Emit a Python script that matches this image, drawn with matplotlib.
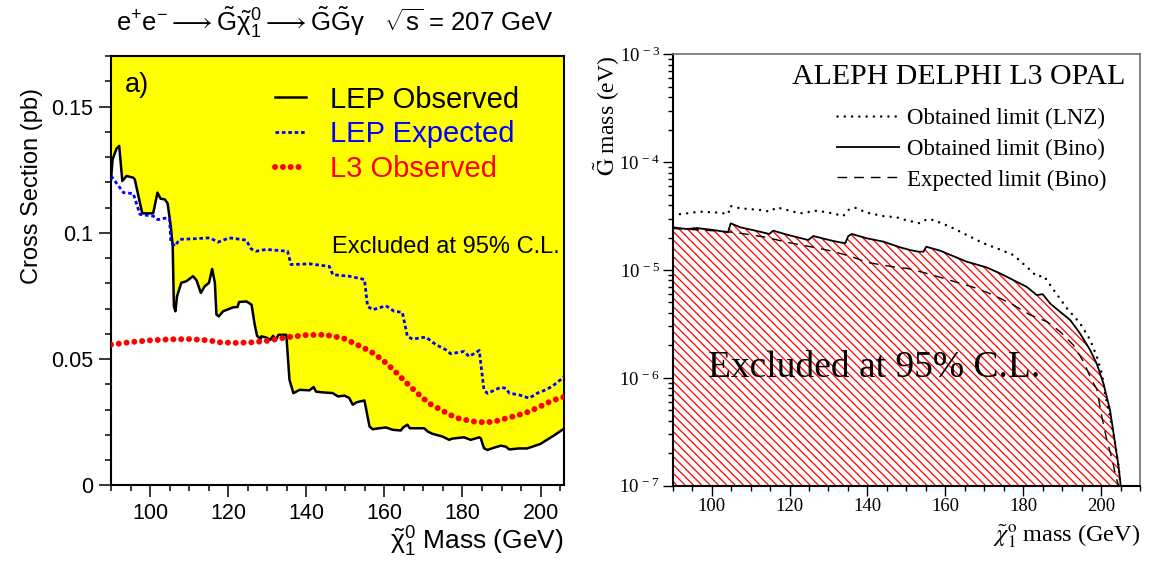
import numpy as np
import matplotlib
matplotlib.use('Agg')
import matplotlib.pyplot as plt
from matplotlib.ticker import MultipleLocator, FixedLocator, LogLocator, FuncFormatter, NullFormatter

plt.rcParams['font.family'] = ['Liberation Sans', 'DejaVu Sans']
plt.rcParams['mathtext.fontset'] = 'custom'
plt.rcParams['mathtext.rm'] = 'Liberation Sans'
plt.rcParams['mathtext.it'] = 'Liberation Sans'
plt.rcParams['mathtext.bf'] = 'Liberation Sans:bold'
plt.rcParams['mathtext.sf'] = 'Liberation Sans'
plt.rcParams['hatch.linewidth'] = 0.9

# ---------------- Left panel data (cross section, pb) ----------------
mass_obs = [90.0, 90.4, 91.4, 92.1, 92.9, 94.0, 95.7, 96.1, 97.4, 98.0,
            100.8, 101.9, 102.7, 103.8, 104.5, 105.3, 105.8, 106.1, 106.5, 106.9,
            108.0, 109.3, 111.0, 111.9, 113.0, 114.0, 115.1, 115.9, 116.6, 117.0,
            117.6, 118.7, 121.3, 122.4, 122.8, 124.7, 126.0, 126.8, 127.4, 128.3,
            128.5, 129.8, 130.8, 131.5, 132.2, 132.9, 134.9, 135.7, 136.7, 138.3,
            140.8, 141.9, 142.5, 144.2, 146.8, 148.1, 149.8, 151.0, 151.9, 152.9,
            154.9, 156.2, 157.0, 158.7, 160.4, 162.1, 164.2, 164.8, 165.9, 166.5,
            170.2, 171.1, 172.3, 174.9, 176.6, 177.4, 180.4, 182.1, 184.3, 184.7,
            185.5, 186.4, 188.1, 189.8, 191.1, 192.0, 194.5, 196.6, 197.9, 200.0,
            201.3, 203.0, 205.6, 206.0]
lep_obs = [0.121, 0.129, 0.1333, 0.1344, 0.1205, 0.1225, 0.1218, 0.1211, 0.1119, 0.1077,
           0.1077, 0.1159, 0.1135, 0.1132, 0.1116, 0.1026, 0.0947, 0.0709, 0.0689, 0.0748,
           0.0802, 0.0808, 0.0828, 0.0812, 0.0762, 0.0788, 0.0802, 0.0857, 0.0802, 0.0676,
           0.0669, 0.0689, 0.0705, 0.0706, 0.0726, 0.0728, 0.0715, 0.0636, 0.0592, 0.0579,
           0.0590, 0.0585, 0.0576, 0.0592, 0.0576, 0.0596, 0.0596, 0.0418, 0.0365, 0.0378,
           0.0376, 0.0389, 0.0371, 0.0368, 0.0365, 0.0352, 0.0355, 0.0346, 0.0319, 0.0329,
           0.0336, 0.0233, 0.0222, 0.0226, 0.0229, 0.0220, 0.0217, 0.0229, 0.0240, 0.0226,
           0.0226, 0.0213, 0.0204, 0.0193, 0.0180, 0.0185, 0.0190, 0.0180, 0.0190, 0.0186,
           0.0147, 0.0140, 0.0149, 0.0157, 0.0153, 0.0142, 0.0146, 0.0146, 0.0153, 0.0164,
           0.0177, 0.0193, 0.0220, 0.0225]

mass_exp = [90.0, 91.0, 93.2, 95.7, 97.4, 100.8, 102.0, 104.3, 105.0, 105.3,
            106.3, 107.6, 111.0, 115.3, 117.4, 120.3, 124.6, 125.9, 127.1, 129.7,
            135.2, 136.1, 140.8, 145.9, 146.8, 151.0, 154.9, 155.7, 157.0, 160.4,
            162.5, 164.6, 165.9, 167.2, 170.6, 173.2, 175.7, 177.0, 180.4, 181.7,
            184.3, 185.5, 186.4, 189.8, 191.1, 192.0, 194.5, 197.1, 199.2, 201.3,
            203.0, 205.6, 206.0]
lep_exp = [0.1225, 0.1205, 0.1159, 0.1155, 0.1073, 0.1066, 0.1052, 0.1059, 0.1055, 0.0967,
           0.0947, 0.0974, 0.0976, 0.0980, 0.0963, 0.0980, 0.0971, 0.0936, 0.0927, 0.0934,
           0.0927, 0.0874, 0.0877, 0.0867, 0.0834, 0.0828, 0.0815, 0.0709, 0.0695, 0.0711,
           0.0689, 0.0685, 0.0590, 0.0579, 0.0587, 0.0557, 0.0537, 0.0521, 0.0530, 0.0510,
           0.0534, 0.0378, 0.0364, 0.0388, 0.0384, 0.0365, 0.0358, 0.0345, 0.0365, 0.0378,
           0.0392, 0.0424, 0.0430]

mass_l3 = [90.0, 95.0, 100.0, 105.0, 110.0, 115.0, 118.0, 122.0, 126.0, 130.0,
           135.0, 140.0, 144.8, 149.4, 152.6, 156.5, 159.5, 162.5, 165.3, 168.0,
           171.4, 174.8, 178.2, 182.5, 185.9, 188.3, 191.9, 196.1, 199.5, 203.0, 206.0]
l3_obs = [0.0557, 0.0567, 0.0574, 0.0578, 0.0579, 0.0574, 0.0566, 0.0564, 0.0566, 0.0572,
          0.0586, 0.0595, 0.0596, 0.0583, 0.0560, 0.0530, 0.0497, 0.0455, 0.0411, 0.0371,
          0.0325, 0.0296, 0.0268, 0.0253, 0.0249, 0.0253, 0.0268, 0.0286, 0.0309, 0.0336, 0.0350]

left_xticks = [100, 120, 140, 160, 180, 200]
left_yticks = [0, 0.05, 0.1, 0.15]
left_yticklabels = ['0', '0.05', '0.1', '0.15']

# ---------------- Right panel data (gravitino mass, eV) ----------------
mass_bino = [90.0, 93.6, 96.2, 100.4, 104.2, 104.9, 107.3, 111.6, 114.8, 115.8,
             119.3, 124.8, 126.1, 131.2, 134.3, 135.1, 136.0, 139.8, 144.1, 148.4,
             151.0, 153.1, 154.4, 155.1, 158.7, 165.5, 170.6, 174.1, 177.5, 180.9,
             183.5, 185.0, 186.9, 189.5, 192.1, 194.6, 197.2, 198.9, 200.6, 202.3,
             203.6, 204.5, 204.9, 205.0]
gmass_bino = [2.489e-5, 2.399e-5, 2.449e-5, 2.350e-5, 2.239e-5, 2.710e-5, 2.489e-5, 2.301e-5, 2.158e-5, 2.317e-5,
              2.128e-5, 1.897e-5, 2.065e-5, 1.858e-5, 1.770e-5, 2.065e-5, 2.158e-5, 1.968e-5, 1.832e-5, 1.622e-5,
              1.531e-5, 1.479e-5, 1.479e-5, 1.644e-5, 1.510e-5, 1.194e-5, 1.057e-5, 9.29e-6, 8.05e-6, 6.98e-6,
              5.85e-6, 5.97e-6, 4.90e-6, 4.09e-6, 3.43e-6, 2.58e-6, 1.81e-6, 1.35e-6, 8.9e-7, 5.04e-7,
              2.47e-7, 1.50e-7, 1.12e-7, 1.0e-7]

mass_lnz = [90.0, 93.6, 97.0, 101.7, 104.3, 104.7, 107.3, 112.4, 115.0, 116.7,
            122.7, 127.0, 131.2, 133.8, 135.1, 136.8, 139.8, 144.1, 147.5, 149.7,
            153.5, 155.2, 156.9, 161.2, 165.5, 169.8, 173.2, 177.5, 181.8, 183.5,
            185.3, 187.8, 191.2, 194.6, 197.2, 198.9, 200.2, 201.0, 202.3, 203.6,
            204.5, 205.0]
gmass_lnz = [3.236e-5, 3.350e-5, 3.475e-5, 3.404e-5, 3.311e-5, 3.926e-5, 3.733e-5, 3.606e-5, 3.475e-5, 3.811e-5,
             3.350e-5, 3.548e-5, 3.350e-5, 3.162e-5, 3.606e-5, 3.784e-5, 3.404e-5, 3.162e-5, 3.083e-5, 2.911e-5,
             2.710e-5, 2.951e-5, 2.911e-5, 2.523e-5, 2.113e-5, 1.770e-5, 1.589e-5, 1.377e-5, 1.0e-5, 8.71e-6,
             8.83e-6, 6.55e-6, 4.43e-6, 3.21e-6, 2.25e-6, 1.58e-6, 1.10e-6, 7.18e-7, 4.37e-7, 2.47e-7,
             1.51e-7, 1.0e-7]

mass_bexp = [90.0, 100.0, 104.0, 107.3, 114.1, 119.3, 126.1, 131.2, 136.4, 139.8,
             144.9, 148.4, 150.1, 155.2, 159.5, 163.8, 168.1, 172.4, 177.5, 181.8,
             186.1, 189.5, 192.9, 195.5, 197.6, 198.9, 200.2, 201.5, 202.8, 203.9, 204.5]
gmass_bexp = [2.427e-5, 2.317e-5, 2.265e-5, 2.193e-5, 2.009e-5, 1.807e-5, 1.626e-5, 1.489e-5, 1.312e-5, 1.178e-5,
              1.096e-5, 1.045e-5, 1.038e-5, 9.31e-6, 8.38e-6, 7.53e-6, 6.76e-6, 5.86e-6, 4.74e-6, 3.83e-6,
              3.32e-6, 2.68e-6, 2.01e-6, 1.41e-6, 9.5e-7, 7.9e-7, 4.37e-7, 2.63e-7, 1.78e-7, 1.17e-7, 1.0e-7]

right_xticks = [100, 120, 140, 160, 180, 200]
right_yticks = [1e-7, 1e-6, 1e-5, 1e-4, 1e-3]

SERIF = 'Liberation Serif'

fig = plt.figure(figsize=(11.52, 5.63), dpi=100)
W, H = 1152.0, 563.0
axL = fig.add_axes([111 / W, 1 - 485.3 / H, 453 / W, 429.3 / H])
axR = fig.add_axes([672.7 / W, 1 - 485.7 / H, 467.3 / W, 431.4 / H])

# ================= LEFT =================
axL.fill_between(mass_obs, lep_obs, 0.17, color='#ffff00', lw=0, zorder=1)
axL.plot(mass_obs, lep_obs, color='black', lw=1.8, zorder=3, label='LEP Observed')
axL.plot(mass_exp, lep_exp, color='#0000ff', lw=2.0, ls=(0, (1.3, 1.0)), zorder=4,
         label='LEP Expected')
axL.plot(mass_l3, l3_obs, color='#ff0000', lw=4.3, ls=(0, (0.01, 1.3)),
         dash_capstyle='round', zorder=5, label='L3 Observed')

axL.set_xlim(90, 206)
axL.set_ylim(0, 0.17)
axL.xaxis.set_major_locator(FixedLocator(left_xticks))
axL.xaxis.set_minor_locator(MultipleLocator(5))
axL.set_yticks(left_yticks, labels=left_yticklabels)
axL.yaxis.set_minor_locator(MultipleLocator(0.01))
axL.tick_params(which='both', direction='out', top=False, right=False, width=1.1,
                labelsize=15.5, colors='black')
axL.tick_params(which='major', length=8.6, pad=4)
axL.tick_params(which='minor', length=4.3)
for s in axL.spines.values():
    s.set_linewidth(1.5)

axL.set_xlabel(r'$\tilde{\chi}^0_1$ Mass (GeV)', fontsize=19, loc='right')
axL.xaxis.set_label_coords(1.0, -0.093)
axL.set_ylabel('Cross Section (pb)', fontsize=17, loc='top')
axL.yaxis.set_label_coords(-0.15, 0.925)

axL.text(0.031, 0.932, 'a)', transform=axL.transAxes, fontsize=19.5, va='center', ha='left')
axL.text(0.991, 0.555, 'Excluded at 95% C.L.', transform=axL.transAxes, fontsize=17,
         va='center', ha='right')
legL = axL.legend(loc='upper left', bbox_to_anchor=(0.362, 0.931), frameon=False,
                  fontsize=21, handlelength=1.05, handletextpad=0.85, labelspacing=0.23,
                  borderpad=0, borderaxespad=0, labelcolor='linecolor')

fig.text(335 / W, 1 - 22 / H,
         r'$\mathregular{e^{+}e^{-}}\longrightarrow\tilde{G}\tilde{\chi}^0_1\longrightarrow\tilde{G}\tilde{G}\gamma$'
         r'   $\sqrt{s}$ = 207 GeV', fontsize=18.5, ha='center', va='center')

# ================= RIGHT =================
axR.set_yscale('log')
axR.fill_between(mass_bino, gmass_bino, 1e-7, facecolor='white', edgecolor='#ff0000',
                 hatch='\\\\\\\\', lw=0, zorder=1)
axR.plot(mass_lnz, gmass_lnz, color='black', lw=1.8, ls=(0, (0.01, 2.9)),
         dash_capstyle='round', zorder=3, label='Obtained limit (LNZ)')
axR.plot(mass_bino, gmass_bino, color='black', lw=1.3, zorder=4, label='Obtained limit (Bino)')
axR.plot(mass_bexp, gmass_bexp, color='black', lw=1.0, ls=(0, (7, 5)), zorder=4,
         label='Expected limit (Bino)')

axR.set_xlim(90, 210)
axR.set_ylim(1e-7, 1e-3)
axR.xaxis.set_major_locator(FixedLocator(right_xticks))
axR.xaxis.set_minor_locator(MultipleLocator(5))
axR.yaxis.set_major_locator(FixedLocator(right_yticks))
axR.yaxis.set_minor_locator(LogLocator(base=10, subs=np.arange(2, 10)))
axR.yaxis.set_minor_formatter(NullFormatter())
axR.yaxis.set_major_formatter(FuncFormatter(
    lambda v, p: r'$\mathregular{10^{\,%d}}$' % int(round(np.log10(v)))))
axR.tick_params(which='both', direction='out', top=False, right=False, width=1.0,
                labelfontfamily=SERIF, labelsize=13.5, colors='black')
axR.tick_params(which='major', length=7.5, pad=1.5)
axR.tick_params(which='minor', length=3.8)
for k in ('left', 'bottom'):
    axR.spines[k].set_linewidth(1.5)
for k in ('top', 'right'):
    axR.spines[k].set_linewidth(1.2)
    axR.spines[k].set_color('#707070')

axR.set_xlabel(r'$\tilde{\chi}^{\rm o}_1$ mass (GeV)', fontsize=17.5, family=SERIF,
               math_fontfamily='stix', loc='right')
axR.xaxis.set_label_coords(1.0, -0.085)
axR.set_ylabel(r'$\tilde{\rm G}$ mass (eV)', fontsize=17, family=SERIF,
               math_fontfamily='stix', loc='top')
axR.yaxis.set_label_coords(-0.108, 0.998)

axR.text(0.968, 0.947, 'ALEPH DELPHI L3 OPAL', transform=axR.transAxes, fontsize=21.5,
         family=SERIF, ha='right', va='center')
axR.text(0.0755, 0.273, 'Excluded at 95% C.L.', transform=axR.transAxes, fontsize=27,
         family=SERIF, ha='left', va='center', zorder=6)
legR = axR.legend(loc='upper left', bbox_to_anchor=(0.352, 0.875), frameon=False,
                  prop={'family': SERIF, 'size': 16.5}, handlelength=2.7,
                  handletextpad=0.35, labelspacing=0.41, borderpad=0, borderaxespad=0)

fig.savefig('out.png', dpi=100)
